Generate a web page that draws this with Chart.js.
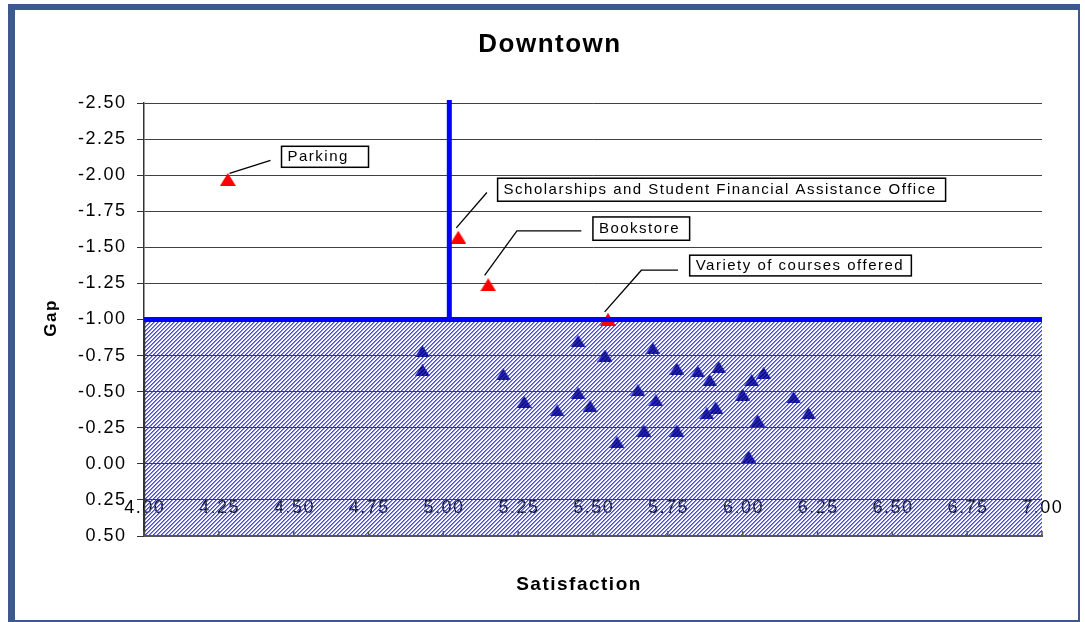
<!DOCTYPE html>
<html>
<head>
<meta charset="utf-8">
<title>Downtown</title>
<script src="https://cdn.jsdelivr.net/npm/chart.js@4.4.1/dist/chart.umd.min.js"></script>
<style>
  html, body { margin: 0; padding: 0; background: #fff; }
  canvas { display: block; }
</style>
</head>
<body>
<canvas id="chart" width="1085" height="622"></canvas>
<script>
// ---- data -------------------------------------------------------------
const chartTitle = 'Downtown';
const xAxisTitle = 'Satisfaction';
const yAxisTitle = 'Gap';

// items whose gap reaches the threshold (called out with labels)
const priorityLabels = [
  'Variety of courses offered',
  'Bookstore',
  'Scholarships and Student Financial Assistance Office',
  'Parking'
];
const prioritySatisfaction = [5.55, 5.15, 5.05, 4.28];
const priorityGap          = [-1.00, -1.24, -1.57, -1.97];

// all remaining items
const otherSatisfaction = [4.93, 4.93, 5.20, 5.45, 5.54, 5.27, 5.45, 5.49, 5.38, 5.58,
                           5.70, 5.78, 5.85, 5.92, 5.89, 6.03, 6.07, 5.65, 5.71, 6.00,
                           6.17, 5.88, 5.91, 6.05, 6.22, 5.67, 5.78, 6.02];
const otherGap          = [-0.78, -0.65, -0.62, -0.85, -0.75, -0.43, -0.49, -0.40, -0.37, -0.15,
                           -0.80, -0.66, -0.64, -0.67, -0.58, -0.58, -0.63, -0.51, -0.44, -0.48,
                           -0.46, -0.35, -0.39, -0.30, -0.35, -0.23, -0.23, -0.05];

// threshold lines
const satisfactionCut = 5.02;
const gapCut = -1.00;

// tick values
const xTickValues = [4.00, 4.25, 4.50, 4.75, 5.00, 5.25, 5.50, 5.75, 6.00, 6.25, 6.50, 6.75, 7.00];
const yTickValues = [-2.50, -2.25, -2.00, -1.75, -1.50, -1.25, -1.00, -0.75, -0.50, -0.25, 0.00, 0.25, 0.50];

// ---- styling ----------------------------------------------------------
const FONT = "'Liberation Sans', Arial, Helvetica, sans-serif";
const GRID_COLOR = '#404040';
const FRAME_COLOR = '#3D5A8E';

// callout boxes and leader lines, as pixel offsets from each labelled point
const calloutLayout = [
  { box: [81.7, -64.3, 221.7, 20.7], leader: [[70, -49.3], [33.4, -49.3], [-3.3, -7.6]] },
  { box: [104.7, -67.9, 96.7, 23.3], leader: [[93.1, -53.9], [28.7, -53.9], [-3.6, -9.6]] },
  { box: [39.3, -59, 448, 23], leader: [[28.6, -44.7], [-2, -9.3]] },
  { box: [53.7, -33.2, 87, 21], leader: [[42.7, -19.2], [1.7, -6.2]] }
];

// 4x4 tile of upward diagonal stripes: one solid and one soft pixel per row
function stripeTile(solid, soft) {
  const c = document.createElement('canvas');
  c.width = 4; c.height = 4;
  const g = c.getContext('2d');
  for (let y = 0; y < 4; y++) {
    g.fillStyle = solid;
    g.fillRect((3 - y + 4) % 4, y, 1, 1);
    g.fillStyle = soft;
    g.fillRect((4 - y) % 4, y, 1, 1);
  }
  return c;
}

function triangleMarker(w, h, color, texture) {
  const c = document.createElement('canvas');
  c.width = w; c.height = h;
  const g = c.getContext('2d');
  g.beginPath();
  g.moveTo(0, h);
  g.lineTo(w / 2, 0);
  g.lineTo(w, h);
  g.closePath();
  g.fillStyle = color;
  g.fill();
  if (texture) {
    g.globalAlpha = 0.45;
    g.fillStyle = g.createPattern(stripeTile(texture, texture), 'repeat');
    g.fill();
  }
  return c;
}

const redTriangle = triangleMarker(16, 13, '#FF0000');
const navyTriangle = triangleMarker(15, 12, '#0A0A80', '#5050FF');
const hatch = stripeTile('#4444FF', '#8888FF');

const textSpacing = {
  id: 'textSpacing',
  beforeLayout(chart) { chart.ctx.letterSpacing = '1.5px'; },
  beforeDraw(chart) { chart.ctx.letterSpacing = '1.5px'; }
};

const frame = {
  id: 'frame',
  beforeDraw(chart) {
    const ctx = chart.ctx;
    ctx.save();
    ctx.fillStyle = '#fff';
    ctx.fillRect(0, 0, chart.width, chart.height);
    ctx.fillStyle = FRAME_COLOR;
    ctx.fillRect(8, 4, 1072, 6);
    ctx.fillRect(8, 4, 7, 618);
    ctx.fillRect(1078, 4, 2, 618);
    ctx.fillRect(8, 620, 1072, 2);
    ctx.restore();
  }
};

function drawXTickLabels(chart, color) {
  const { ctx, chartArea } = chart;
  const xs = chart.scales.x;
  ctx.fillStyle = color;
  ctx.font = '18px ' + FONT;
  ctx.textAlign = 'center';
  ctx.textBaseline = 'middle';
  xs.ticks.forEach(t => {
    ctx.fillText(Number(t.value).toFixed(2), xs.getPixelForValue(t.value) + 0.75, chartArea.bottom - 28);
  });
}

// x tick labels sit inside the plot; the shaded low-gap zone goes over them
const lowGapZone = {
  id: 'lowGapZone',
  beforeDatasetsDraw(chart) {
    const { ctx, chartArea } = chart;
    const ys = chart.scales.y;
    const top = ys.getPixelForValue(gapCut);
    ctx.save();

    drawXTickLabels(chart, '#000');

    ctx.fillStyle = ctx.createPattern(hatch, 'repeat');
    ctx.fillRect(chartArea.left, top, chartArea.right - chartArea.left, chartArea.bottom - top);

    // labels show through the shading
    ctx.save();
    ctx.beginPath();
    ctx.rect(chartArea.left, top, chartArea.right - chartArea.left, chartArea.bottom - top);
    ctx.clip();
    ctx.globalAlpha = 0.55;
    drawXTickLabels(chart, '#222');
    ctx.restore();

    ctx.strokeStyle = GRID_COLOR;
    ctx.lineWidth = 1;
    ys.ticks.forEach(t => {
      if (t.value > gapCut && t.value < ys.max) {
        const y = Math.round(ys.getPixelForValue(t.value) - 0.5) + 0.5;
        ctx.beginPath();
        ctx.moveTo(chartArea.left, y);
        ctx.lineTo(chartArea.right, y);
        ctx.stroke();
      }
    });
    ctx.strokeStyle = '#333';
    ctx.lineWidth = 1.5;
    ctx.beginPath();
    ctx.moveTo(chartArea.left + 0.5, top);
    ctx.lineTo(chartArea.left + 0.5, chartArea.bottom);
    ctx.stroke();
    ctx.restore();
  }
};

const overlay = {
  id: 'overlay',
  afterDraw(chart) {
    const { ctx, chartArea } = chart;
    const xs = chart.scales.x, ys = chart.scales.y;
    ctx.save();

    // bottom axis line and inward tick marks
    ctx.strokeStyle = '#555';
    ctx.lineWidth = 2;
    ctx.beginPath();
    ctx.moveTo(chartArea.left, chartArea.bottom);
    ctx.lineTo(chartArea.right, chartArea.bottom);
    ctx.stroke();
    ctx.lineWidth = 1.5;
    xs.ticks.forEach(t => {
      const x = xs.getPixelForValue(t.value);
      ctx.beginPath();
      ctx.moveTo(x, chartArea.bottom);
      ctx.lineTo(x, chartArea.bottom - 5);
      ctx.stroke();
    });

    // threshold lines
    const yCut = ys.getPixelForValue(gapCut);
    const xCut = xs.getPixelForValue(satisfactionCut);
    ctx.strokeStyle = '#0000FF';
    ctx.lineWidth = 5;
    ctx.beginPath();
    ctx.moveTo(chartArea.left, yCut);
    ctx.lineTo(chartArea.right, yCut);
    ctx.stroke();
    ctx.beginPath();
    ctx.moveTo(xCut, chartArea.top - 3);
    ctx.lineTo(xCut, yCut);
    ctx.stroke();

    // callouts
    const meta = chart.getDatasetMeta(0);
    ctx.font = '15px ' + FONT;
    ctx.textBaseline = 'middle';
    ctx.textAlign = 'left';
    priorityLabels.forEach((label, i) => {
      const pt = meta.data[i];
      const c = calloutLayout[i];
      ctx.strokeStyle = '#000';
      ctx.lineWidth = 1.3;
      ctx.beginPath();
      c.leader.forEach(([dx, dy], k) => {
        if (k === 0) ctx.moveTo(pt.x + dx, pt.y + dy);
        else ctx.lineTo(pt.x + dx, pt.y + dy);
      });
      ctx.stroke();
      const [bx, by, bw, bh] = c.box;
      ctx.fillStyle = '#fff';
      ctx.fillRect(pt.x + bx, pt.y + by, bw, bh);
      ctx.lineWidth = 1.5;
      ctx.strokeRect(pt.x + bx, pt.y + by, bw, bh);
      ctx.fillStyle = '#000';
      ctx.fillText(label, pt.x + bx + 6, pt.y + by + bh / 2 + 0.5);
    });

    // titles
    ctx.fillStyle = '#000';
    ctx.textAlign = 'center';
    ctx.font = 'bold 26px ' + FONT;
    ctx.fillText(chartTitle, 550, 45);
    ctx.font = 'bold 19px ' + FONT;
    ctx.fillText(xAxisTitle, 579, 585);
    ctx.translate(51, 318);
    ctx.rotate(-Math.PI / 2);
    ctx.font = 'bold 17px ' + FONT;
    ctx.fillText(yAxisTitle, 0, 0);
    ctx.restore();
  }
};

new Chart(document.getElementById('chart'), {
  type: 'scatter',
  data: {
    datasets: [
      {
        label: 'Priority items',
        data: priorityLabels.map((_, i) => ({ x: prioritySatisfaction[i], y: priorityGap[i] })),
        pointStyle: redTriangle,
        pointRadius: 7
      },
      {
        label: 'Other items',
        data: otherSatisfaction.map((s, i) => ({ x: s, y: otherGap[i] })),
        pointStyle: navyTriangle,
        pointRadius: 7
      }
    ]
  },
  options: {
    responsive: false,
    animation: false,
    devicePixelRatio: 1,
    layout: { padding: { left: 0, top: 103, right: 43, bottom: 0 } },
    plugins: {
      legend: { display: false },
      tooltip: { enabled: false },
      title: { display: false }
    },
    scales: {
      x: {
        type: 'linear',
        min: 4, max: 7,
        afterBuildTicks: s => { s.ticks = xTickValues.map(v => ({ value: v })); },
        afterFit: s => { s.height = 86; },
        grid: { display: true, drawOnChartArea: false, drawTicks: false },
        border: { display: true, color: '#555', width: 2 },
        ticks: { display: false }
      },
      y: {
        type: 'linear',
        reverse: true,
        min: -2.5, max: 0.5,
        afterBuildTicks: s => { s.ticks = yTickValues.map(v => ({ value: v })); },
        afterFit: s => { s.width = 144; },
        grid: { color: GRID_COLOR, lineWidth: 1, drawTicks: true, tickLength: 7, tickColor: '#333' },
        border: { display: true, color: '#333', width: 1.5 },
        ticks: {
          padding: 10.5,
          color: '#000',
          font: { family: FONT, size: 18 },
          callback: v => Number(v).toFixed(2)
        }
      }
    }
  },
  plugins: [textSpacing, frame, lowGapZone, overlay]
});
</script>
</body>
</html>
